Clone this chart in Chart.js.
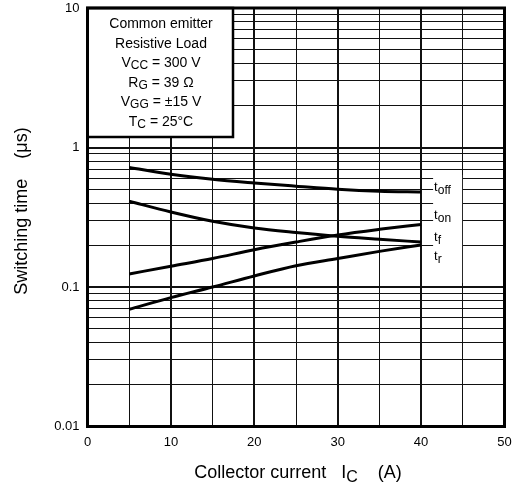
<!DOCTYPE html>
<html>
<head>
<meta charset="utf-8">
<script src="https://cdn.jsdelivr.net/npm/chart.js@4"></script>
<style>
  html, body { margin: 0; padding: 0; background: #fff; }
  #wrap { width: 512px; height: 486px; }
</style>
</head>
<body>
<div id="wrap"><canvas id="swChart" width="512" height="486"></canvas></div>
<script>
// data
const currents = [5, 10, 15, 20, 25, 30, 35, 40];
const tOff = [0.719, 0.643, 0.592, 0.557, 0.528, 0.502, 0.486, 0.480];
const tOn  = [0.412, 0.345, 0.296, 0.265, 0.246, 0.231, 0.220, 0.210];
const tF   = [0.124, 0.141, 0.160, 0.185, 0.210, 0.236, 0.259, 0.281];
const tR   = [0.0692, 0.0839, 0.100, 0.120, 0.142, 0.160, 0.180, 0.200];
const yTicks = [];
[0.01, 0.1, 1].forEach(d => { for (let m = 1; m < 10; m++) yTicks.push(+(d * m).toPrecision(3)); });
yTicks.push(10);
const curveNames = [['t', 'off'], ['t', 'on'], ['t', 'f'], ['t', 'r']];
const curveLabelY = [191, 219, 241, 260];
const conditions = [
  [['Common emitter']],
  [['Resistive Load']],
  [['V'], ['CC', 1], [' = 300 V']],
  [['R'], ['G', 1], [' = 39 Ω']],
  [['V'], ['GG', 1], [' = ±15 V']],
  [['T'], ['C', 1], [' = 25°C']]
];

const FONT = '"Liberation Sans", Arial, sans-serif';
const isDecade = v => Math.abs(Math.log10(v) - Math.round(Math.log10(v))) < 1e-6;

function toPts(vals) { return currents.map((x, i) => ({ x: x, y: vals[i] })); }

// draw text made of normal + subscript pieces, centered at cx
function drawParts(ctx, parts, cx, y, size, subSize, subDrop) {
  let w = 0;
  parts.forEach(p => { ctx.font = (p[1] ? subSize : size) + 'px ' + FONT; w += ctx.measureText(p[0]).width; });
  let x = cx - w / 2;
  ctx.textAlign = 'left';
  parts.forEach(p => {
    ctx.font = (p[1] ? subSize : size) + 'px ' + FONT;
    ctx.fillText(p[0], x, p[1] ? y + subDrop : y);
    x += ctx.measureText(p[0]).width;
  });
}

const decorPlugin = {
  id: 'decor',
  beforeDatasetsDraw(chart) {
    const ctx = chart.ctx, xs = chart.scales.x;
    ctx.save();
    // blank strip behind curve labels
    ctx.fillStyle = '#fff';
    ctx.fillRect(xs.getPixelForValue(40) + 12, 175, 29, 108);
    // conditions box
    const bx = chart.chartArea.left, by = chart.chartArea.top;
    const bw = 233 - bx, bh = 137 - by;
    ctx.fillRect(bx, by, bw, bh);
    ctx.strokeStyle = '#000';
    ctx.lineWidth = 2.5;
    ctx.strokeRect(bx, by, bw, bh);
    ctx.fillStyle = '#000';
    ctx.textBaseline = 'alphabetic';
    conditions.forEach((parts, i) => {
      drawParts(ctx, parts, 161, 28 + i * 19.6, 14, 12, 2);
    });
    ctx.restore();
  },
  afterDraw(chart) {
    const ctx = chart.ctx, a = chart.chartArea, xs = chart.scales.x;
    ctx.save();
    ctx.strokeStyle = '#000';
    ctx.lineWidth = 3;
    ctx.strokeRect(a.left, a.top, a.right - a.left, a.bottom - a.top);
    ctx.fillStyle = '#000';
    ctx.textBaseline = 'alphabetic';
    // curve labels
    const lx = xs.getPixelForValue(40) + 13;
    curveNames.forEach((n, i) => {
      ctx.textAlign = 'left';
      ctx.font = '13px ' + FONT;
      ctx.fillText(n[0], lx, curveLabelY[i]);
      const tw = ctx.measureText(n[0]).width;
      ctx.font = '12px ' + FONT;
      ctx.fillText(n[1], lx + tw, curveLabelY[i] + 3);
    });
    // x title
    drawParts(ctx, [['Collector current   I'], ['C', 1], ['    (A)']], 298, 478, 18, 16, 4);
    // y title
    ctx.translate(27, 211);
    ctx.rotate(-Math.PI / 2);
    drawParts(ctx, [['Switching time    (μs)']], 0, 0, 18, 16, 0);
    ctx.restore();
  }
};

const lineStyle = { borderColor: '#000', borderWidth: 3, pointRadius: 0, fill: false, cubicInterpolationMode: 'monotone' };

function noOverflow(s) {
  s.paddingLeft = 0; s.paddingRight = 0; s.paddingTop = 0; s.paddingBottom = 0;
}

new Chart(document.getElementById('swChart').getContext('2d'), {
  type: 'line',
  data: {
    datasets: [
      Object.assign({ label: 'toff', data: toPts(tOff) }, lineStyle),
      Object.assign({ label: 'ton', data: toPts(tOn) }, lineStyle),
      Object.assign({ label: 'tf', data: toPts(tF) }, lineStyle),
      Object.assign({ label: 'tr', data: toPts(tR) }, lineStyle)
    ]
  },
  options: {
    responsive: false,
    animation: false,
    devicePixelRatio: 1,
    layout: { padding: { left: 0, right: 7.5, top: 8, bottom: 0 } },
    plugins: { legend: { display: false }, tooltip: { enabled: false } },
    scales: {
      x: {
        type: 'linear', min: 0, max: 50,
        afterFit(s) { s.height = 59.5; noOverflow(s); },
        ticks: {
          stepSize: 5, autoSkip: false, maxRotation: 0, padding: 8,
          color: '#000', font: { family: FONT, size: 13 },
          callback: v => (v % 10 === 0 ? String(v) : '')
        },
        grid: {
          drawTicks: false, color: '#111',
          lineWidth: c => (c.tick && c.tick.value % 10 === 0 ? 2 : 1)
        },
        border: { display: false }
      },
      y: {
        type: 'logarithmic', min: 0.01, max: 10,
        afterFit(s) { s.width = 87.5; noOverflow(s); },
        afterBuildTicks(s) { s.ticks = yTicks.map(v => ({ value: v })); },
        ticks: {
          autoSkip: false, padding: 8, color: '#000', font: { family: FONT, size: 13 },
          callback: v => (isDecade(v) ? String(v) : '')
        },
        grid: {
          drawTicks: false, color: '#111',
          lineWidth: c => (c.tick && isDecade(c.tick.value) ? 2 : 1)
        },
        border: { display: false }
      }
    }
  },
  plugins: [decorPlugin]
});
</script>
</body>
</html>
